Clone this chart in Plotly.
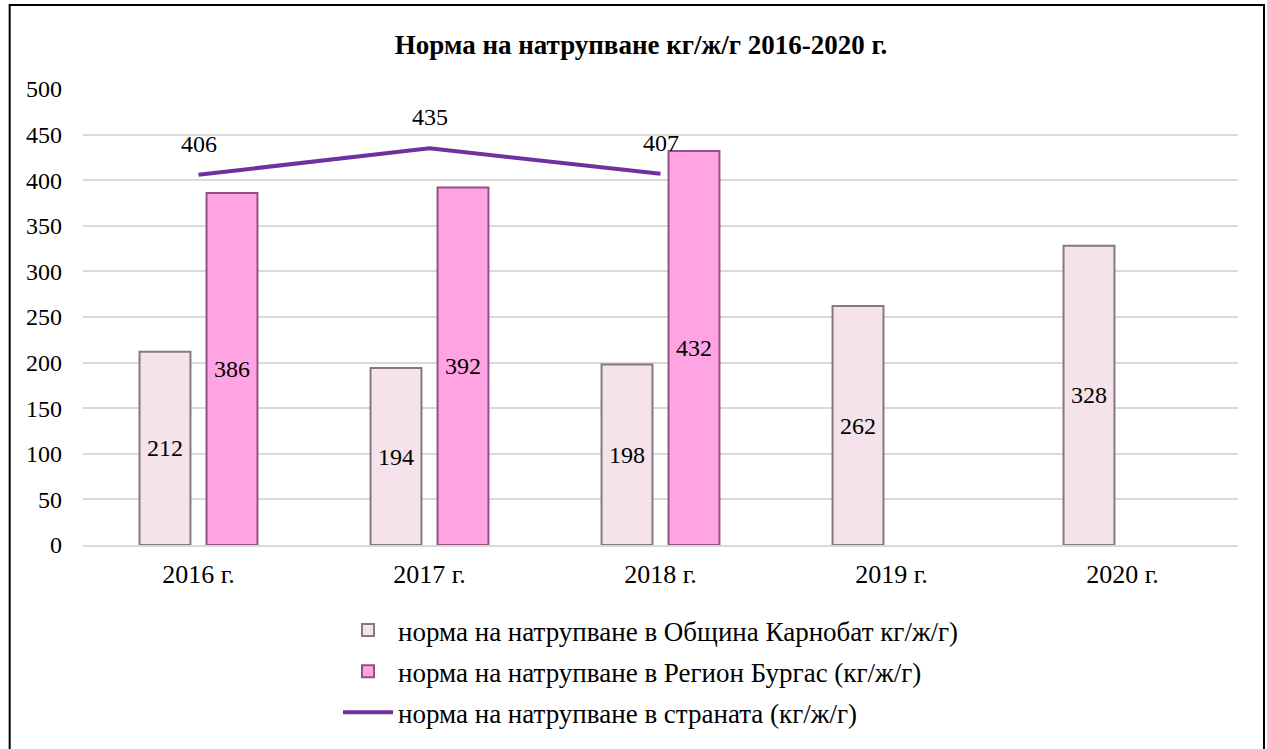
import plotly.graph_objects as go

years = ["2016 г.", "2017 г.", "2018 г.", "2019 г.", "2020 г."]
karnobat = [212, 194, 198, 262, 328]
burgas = [386, 392, 432, None, None]
country_years = ["2016 г.", "2017 г.", "2018 г."]
country = [406, 435, 407]

names = [
    "норма на натрупване в Община Карнобат кг/ж/г)",
    "норма на натрупване в Регион Бургас (кг/ж/г)",
    "норма на натрупване в страната (кг/ж/г)",
]
title = "Норма на натрупване кг/ж/г 2016-2020 г."

FONT = "Liberation Serif, Times New Roman, serif"

fig = go.Figure()
fig.add_trace(go.Bar(
    x=years, y=karnobat, name=names[0], legendgroup="a",
    marker=dict(color="#f4e3ea", line=dict(color="#877880", width=2)),
    text=[str(v) for v in karnobat], textposition="inside",
    insidetextanchor="middle", textangle=0, constraintext="none",
    textfont=dict(family=FONT, size=24, color="black"),
))
fig.add_trace(go.Bar(
    x=years, y=burgas, name=names[1], legendgroup="b",
    marker=dict(color="#ffa3e3", line=dict(color="#95507f", width=2)),
    text=[("" if v is None else str(v)) for v in burgas], textposition="inside",
    insidetextanchor="middle", textangle=0, constraintext="none",
    textfont=dict(family=FONT, size=24, color="black"),
))
fig.add_trace(go.Scatter(
    x=country_years, y=country, name=names[2], mode="lines", legendgroup="c",
    line=dict(color="#7030a0", width=4),
))
for xv, yv in zip(country_years, country):
    fig.add_annotation(x=xv, y=yv, text=str(yv), showarrow=False,
                       yshift=31, font=dict(family=FONT, size=24, color="black"))

fig.add_shape(type="rect", xref="paper", yref="paper",
              x0=-0.0635, x1=1.0225, y0=-0.6, y1=1.184,
              line=dict(color="black", width=2), fillcolor="rgba(0,0,0,0)", layer="above")

fig.update_layout(
    width=1267, height=749,
    margin=dict(l=83, r=29, t=89, b=204, autoexpand=False),
    paper_bgcolor="white", plot_bgcolor="white",
    font=dict(family=FONT, size=24, color="black"),
    title=dict(text="<b>" + title + "</b>", x=0.506, xanchor="center",
               y=1 - 45 / 749, yanchor="middle", yref="container",
               font=dict(family=FONT, size=27, color="black")),
    barmode="group", bargap=0.42, bargroupgap=0.24,
    showlegend=True,
    legend=dict(x=(338 - 83) / 1155, y=(545 - 606) / 456,
                xanchor="left", yanchor="top", orientation="v",
                font=dict(family=FONT, size=27, color="black"),
                tracegroupgap=3, itemwidth=50, bgcolor="rgba(0,0,0,0)"),
    xaxis=dict(showgrid=False, showline=True, linecolor="#d9d9d9", linewidth=1.5,
               ticks="", tickfont=dict(family=FONT, size=26), ticklabelstandoff=5),
    yaxis=dict(range=[0, 500], dtick=50, showgrid=True, gridcolor="#d9d9d9",
               gridwidth=1.5, zeroline=False, showline=False, ticks="",
               tickfont=dict(family=FONT, size=24), ticklabelstandoff=20),
)

fig.write_html("out.html")
